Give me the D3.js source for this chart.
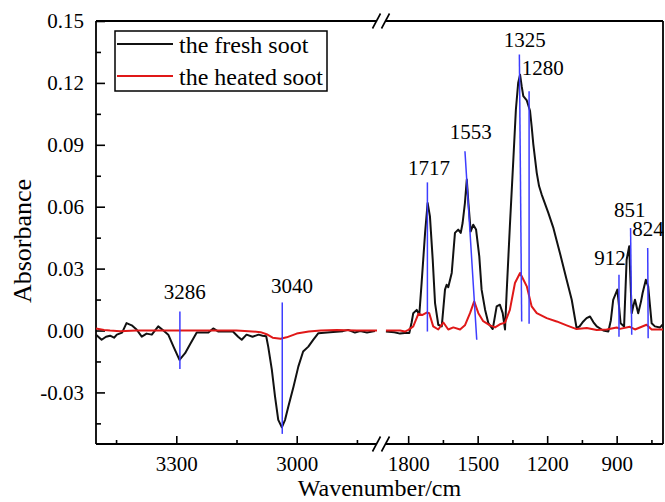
<!DOCTYPE html>
<html>
<head>
<meta charset="utf-8">
<script src="https://cdn.jsdelivr.net/npm/d3@7"></script>
<style>
  html, body { margin: 0; padding: 0; background: #fff; }
  svg { display: block; }
</style>
</head>
<body>
<svg id="chart" width="665" height="502"></svg>
<script>
// ---------------- DATA ----------------
// Left segment (high wavenumber) – fresh soot
const freshHighWn = [3500,3486,3475,3465,3455,3448,3435,3424,3411,3399,3386,3374,3361,3345,3332,3320,3307,3292,3278,3266,3249,3233,3220,3208,3195,3175,3159,3146,3137,3125,3110,3095,3085,3076,3071,3062,3054,3046,3037,3029,3021,3008,2996,2984,2971,2959,2946,2917,2885,2872,2855,2842,2825,2805];
const freshHighAbs = [-0.002,-0.0045,-0.003,-0.0025,-0.0035,-0.002,-0.001,0.0036,0.0025,0.0005,-0.003,-0.0015,-0.002,0.002,0.0,-0.002,-0.0078,-0.0142,-0.011,-0.0068,-0.001,-0.001,-0.001,0.001,-0.0005,-0.0005,-0.0005,-0.003,-0.0045,-0.002,-0.003,-0.002,-0.0025,-0.0028,-0.0078,-0.019,-0.032,-0.0433,-0.0469,-0.0433,-0.0369,-0.0272,-0.0175,-0.0102,-0.0078,-0.0045,-0.0013,-0.0008,-0.0003,0.0003,-0.001,-0.0003,-0.001,-0.0003];
// Left segment – heated soot
const heatedHighWn = [3500,3480,3465,3440,3400,3300,3200,3150,3120,3090,3075,3060,3040,3025,3000,2970,2940,2900,2850,2800];
const heatedHighAbs = [0.001,0.0003,0.0,-0.0003,0.0,0.0,0.0,0.0,-0.0003,-0.0008,-0.0018,-0.0035,-0.004,-0.0033,-0.0015,-0.0005,0.0,0.0003,0.0,0.0];
// Right segment (low wavenumber) – fresh soot
const freshLowWn = [1896,1860,1835,1815,1795,1785,1778,1763,1752,1742,1727,1716,1706,1694,1684,1670,1655,1641,1634,1627,1612,1598,1584,1573,1565,1555,1547,1540,1530,1519,1507,1493,1483,1468,1454,1435,1418,1404,1392,1382,1375,1361,1346,1335,1325,1317,1310,1303,1288,1274,1267,1260,1245,1235,1224,1195,1174,1160,1145,1116,1094,1073,1060,1044,1030,1015,1000,986,958,936,925,915,897,890,883,868,857,846,835,828,821,807,795,788,774,764,749,735,713,700];
const freshLowAbs = [-0.0005,-0.0008,-0.0015,-0.0012,-0.0012,0.004,0.0084,0.0100,0.0076,0.023,0.0473,0.0618,0.0553,0.0343,0.0133,0.0028,0.002,0.0198,0.0222,0.021,0.0279,0.0473,0.0489,0.0473,0.0521,0.0618,0.0732,0.0618,0.048,0.0513,0.049,0.0359,0.0198,0.0101,0.0036,0.0007,0.0117,0.0125,0.0084,0.0005,0.0182,0.0505,0.0829,0.1071,0.1201,0.124,0.1184,0.1136,0.1115,0.1065,0.099,0.0905,0.0764,0.0700,0.0660,0.057,0.050,0.044,0.0376,0.0246,0.0149,0.0012,0.002,0.0044,0.006,0.0068,0.004,0.002,0.0,-0.0005,0.005,0.0149,0.0198,0.012,0.0035,0.002,0.0343,0.0408,0.0084,0.012,0.0149,0.0084,0.014,0.0182,0.0246,0.0214,0.0035,0.002,0.0015,0.003];
// Right segment – heated soot
const heatedLowWn = [1896,1835,1814,1799,1778,1756,1740,1720,1709,1692,1670,1648,1627,1605,1576,1555,1533,1515,1497,1476,1447,1425,1404,1382,1361,1339,1317,1304,1288,1267,1245,1202,1159,1116,1073,1029,986,943,900,886,843,821,771,749,700];
const heatedLowAbs = [0.0,0.0,-0.0005,0.0003,0.002,0.0081,0.0075,0.0087,0.0084,0.002,0.0005,0.0039,0.0005,0.0015,0.0005,0.0025,0.0084,0.0141,0.0084,0.0045,0.0025,0.0015,0.003,0.0038,0.01,0.023,0.0279,0.025,0.0214,0.0117,0.0084,0.006,0.0044,0.0025,0.0007,0.0012,0.0002,0.0005,0.0015,0.0008,0.0018,0.0005,0.0028,0.0005,0.0005];

// Peak marker lines (blue): wavenumber at top/bottom, absorbance at top/bottom
const markerWnTop = [3291,3036,1717,1555,1320,1278,890,840,766];
const markerWnBot = [3291,3036,1717,1504,1310,1278,890,835,764];
const markerAbsTop = [0.0092,0.0136,0.0718,0.0869,0.1338,0.116,0.027,0.0497,0.040];
const markerAbsBot = [-0.0187,-0.0501,-0.0005,-0.0045,0.0044,0.0033,-0.003,-0.0021,-0.0037];
// Peak labels and anchor (wavenumber, absorbance of baseline)
const peakLabels = ["3286","3040","1717","1553","1325","1280","912","851","824"];
const peakLabelWn = [3279,3012,1710,1530,1297,1219,929,843,765];
const peakLabelAbs = [0.0152,0.0184,0.0752,0.0926,0.1376,0.1236,0.0319,0.055,0.0456];

// Axis ticks
const yMajor = [-0.03,0.00,0.03,0.06,0.09,0.12,0.15];
const yMajorLabels = ["-0.03","0.00","0.03","0.06","0.09","0.12","0.15"];
const yMinor = [-0.045,-0.015,0.015,0.045,0.075,0.105,0.135];
const xHighMajor = [3300,3000];
const xHighMinor = [3450,3150,2850];
const xLowMajor = [1800,1500,1200,900];
const xLowMinor = [1650,1350,1050,750];

const seriesNames = ["the fresh soot","the heated soot"];
const seriesColors = ["#111111","#e01818"];

// ---------------- LAYOUT ----------------
const FONT = "'Liberation Serif', 'Times New Roman', 'DejaVu Serif', serif";
const L = 96, R = 663, T = 21, B = 444;
const breakL = 376.5, breakR = 385.5;
const svg = d3.select("#chart");

const xHigh = d3.scaleLinear().domain([3500,2800]).range([L, 377]);
const xLow = d3.scaleLinear().domain([1900,700]).range([385, R]);
const x = w => (w >= 2000 ? xHigh(w) : xLow(w));
const y = d3.scaleLinear().domain([-0.055,0.15]).range([B, T]);

const tickFont = "21px";

function styleTexts(sel, size){
  sel.attr("font-family", FONT).style("font-family", FONT).style("font-size", size).attr("fill","#000");
}

// Bottom axes (ticks inward)
function bottomAxis(scale, major, minor){
  const gMaj = svg.append("g").attr("transform",`translate(0,${B})`)
    .call(d3.axisBottom(scale).tickValues(major).tickSize(-8).tickPadding(12).tickFormat(d3.format("d")));
  gMaj.select(".domain").remove();
  gMaj.selectAll("line").attr("stroke","#000").attr("stroke-width",1.6);
  styleTexts(gMaj.selectAll("text"), tickFont);
  const gMin = svg.append("g").attr("transform",`translate(0,${B})`)
    .call(d3.axisBottom(scale).tickValues(minor).tickSize(-4).tickFormat(""));
  gMin.select(".domain").remove();
  gMin.selectAll("line").attr("stroke","#000").attr("stroke-width",1.6);
}
bottomAxis(xHigh, xHighMajor, xHighMinor);
bottomAxis(xLow, xLowMajor, xLowMinor);

// Left axis
const gY = svg.append("g").attr("transform",`translate(${L},0)`)
  .call(d3.axisLeft(y).tickValues(yMajor).tickSize(-9).tickPadding(12).tickFormat((d,i)=>yMajorLabels[i]));
gY.select(".domain").remove();
gY.selectAll("line").attr("stroke","#000").attr("stroke-width",1.6);
styleTexts(gY.selectAll("text"), tickFont);
const gYm = svg.append("g").attr("transform",`translate(${L},0)`)
  .call(d3.axisLeft(y).tickValues(yMinor).tickSize(-5).tickFormat(""));
gYm.select(".domain").remove();
gYm.selectAll("line").attr("stroke","#000").attr("stroke-width",1.6);

// Frame with breaks
const frame = svg.append("g").attr("stroke","#000").attr("stroke-width",1.8).attr("fill","none");
[[L,T,breakL,T],[breakR,T,R,T],[L,B,breakL,B],[breakR,B,R,B],[L,T,L,B],[R,T,R,B]].forEach(s=>{
  frame.append("line").attr("x1",s[0]).attr("y1",s[1]).attr("x2",s[2]).attr("y2",s[3]);
});
[T,B].forEach(yy=>{
  [breakL,breakR].forEach(cx=>{
    frame.append("line").attr("x1",cx-4).attr("y1",yy+7.5).attr("x2",cx+4).attr("y2",yy-7.5).attr("stroke-width",1.6);
  });
});

// Curves
const line = d3.line().x(d=>x(d[0])).y(d=>y(d[1]));
function drawSeries(wn, ab, color){
  svg.append("path").datum(wn.map((w,i)=>[w,ab[i]]))
    .attr("d",line).attr("fill","none").attr("stroke",color)
    .attr("stroke-width",2).attr("stroke-linejoin","round");
}
drawSeries(freshHighWn, freshHighAbs, seriesColors[0]);
drawSeries(freshLowWn, freshLowAbs, seriesColors[0]);
drawSeries(heatedHighWn, heatedHighAbs, seriesColors[1]);
drawSeries(heatedLowWn, heatedLowAbs, seriesColors[1]);

// Peak marker lines
svg.append("g").selectAll("line").data(peakLabels).join("line")
  .attr("x1",(d,i)=>x(markerWnTop[i])).attr("x2",(d,i)=>x(markerWnBot[i]))
  .attr("y1",(d,i)=>y(markerAbsTop[i])).attr("y2",(d,i)=>y(markerAbsBot[i]))
  .attr("stroke","#3d3dff").attr("stroke-width",1.5);

// Peak labels
const pl = svg.append("g").selectAll("text").data(peakLabels).join("text")
  .attr("x",(d,i)=>x(peakLabelWn[i])).attr("y",(d,i)=>y(peakLabelAbs[i]))
  .attr("text-anchor","middle").text(d=>d);
styleTexts(pl, tickFont);

// Axis titles
styleTexts(svg.append("text").attr("x",(L+R)/2).attr("y",496).attr("text-anchor","middle")
  .text("Wavenumber/cm"), "24px");
styleTexts(svg.append("text").attr("transform","translate(31,241) rotate(-90)").attr("text-anchor","middle")
  .text("Absorbance"), "26px");

// Legend
const lg = svg.append("g");
lg.append("rect").attr("x",115).attr("y",31).attr("width",212).attr("height",60)
  .attr("fill","#fff").attr("stroke","#000").attr("stroke-width",1.5);
seriesNames.forEach((n,i)=>{
  const yy = 44 + i*32;
  lg.append("line").attr("x1",117).attr("x2",173).attr("y1",yy).attr("y2",yy)
    .attr("stroke",seriesColors[i]).attr("stroke-width",2);
  styleTexts(lg.append("text").attr("x",179).attr("y",yy+9.3).text(n), "24px");
});
</script>
</body>
</html>
